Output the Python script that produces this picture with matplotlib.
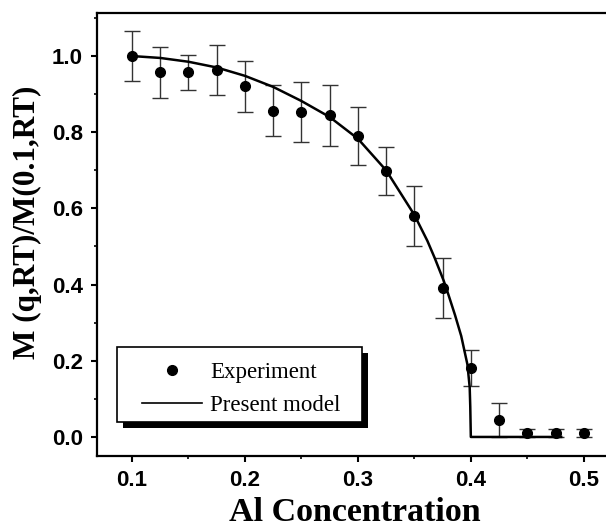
import matplotlib
matplotlib.use("Agg")
import matplotlib.pyplot as plt
from matplotlib.ticker import MultipleLocator
from matplotlib.patches import Rectangle

# experiment: Al concentration, normalised magnetisation, error
conc = [0.1, 0.125, 0.15, 0.175, 0.2, 0.225, 0.25, 0.275, 0.3, 0.325,
        0.35, 0.375, 0.4, 0.425, 0.45, 0.475, 0.5]
mag = [1.0, 0.958, 0.958, 0.963, 0.921, 0.856, 0.853, 0.845, 0.790, 0.698,
       0.580, 0.391, 0.181, 0.045, 0.011, 0.011, 0.011]
err = [0.065, 0.067, 0.046, 0.065, 0.067, 0.067, 0.078, 0.08, 0.076, 0.063,
       0.08, 0.078, 0.047, 0.045, 0.011, 0.011, 0.011]

# present model curve
model_x = [0.1, 0.125, 0.15, 0.175, 0.2, 0.225, 0.25, 0.275, 0.3, 0.325,
           0.35, 0.3615, 0.368, 0.376, 0.38, 0.386, 0.3915, 0.397, 0.399, 0.3995,
           0.4, 0.48]
model_y = [1.0, 0.995, 0.985, 0.97, 0.948, 0.919, 0.882, 0.84, 0.783, 0.70,
           0.583, 0.515, 0.47, 0.41, 0.375, 0.32, 0.265, 0.19, 0.13, 0.08,
           0.0, 0.0]

serif = ["Liberation Serif", "DejaVu Serif"]
sans = ["Liberation Sans", "DejaVu Sans"]

fig = plt.figure(figsize=(6.06, 5.27), dpi=100)
ax = fig.add_axes([97/606, 1-456/527, 515/606, 443/527])

ax.errorbar(conc, mag, yerr=err, fmt="none", ecolor="#333333", elinewidth=1,
            capsize=5.5, capthick=1)
ax.plot(conc, mag, "o", color="black", markersize=7, label="Experiment")
ax.plot(model_x, model_y, "-", color="black", lw=1.8, label="Present model")

ax.set_xlim(0.069, 0.525)
ax.set_ylim(-0.05, 1.113)
ax.xaxis.set_major_locator(MultipleLocator(0.1))
ax.xaxis.set_minor_locator(MultipleLocator(0.05))
ax.yaxis.set_major_locator(MultipleLocator(0.2))
ax.yaxis.set_minor_locator(MultipleLocator(0.1))
ax.tick_params(which="major", direction="out", length=4, width=1.5, labelsize=16)
ax.tick_params(axis="x", which="major", pad=6)
ax.tick_params(axis="y", which="major", pad=6)
ax.tick_params(which="minor", direction="out", length=2.5, width=1.2)
for lab in ax.get_xticklabels() + ax.get_yticklabels():
    lab.set_family(sans)
    lab.set_fontweight("bold")
for s in ax.spines.values():
    s.set_linewidth(1.6)

ax.set_xlabel("Al Concentration", family=serif, fontweight="bold", fontsize=24.5, va="top")
ax.xaxis.set_label_coords(0.5, -0.093)
ax.set_ylabel("M (q,RT)/M(0.1,RT)", family=serif, fontweight="bold", fontsize=22.5)
ax.yaxis.set_label_coords(-0.107, 0.528)

# legend box with solid black shadow
bx0, by0, bx1, by1 = 0.039, 0.077, 0.515, 0.246
dx, dy = 6 / 515, 6 / 443
ax.add_patch(Rectangle((bx0 + dx, by0 - dy), bx1 - bx0, by1 - by0, transform=ax.transAxes,
                       facecolor="black", edgecolor="none", zorder=4))
ax.add_patch(Rectangle((bx0, by0), bx1 - bx0, by1 - by0, transform=ax.transAxes,
                       facecolor="white", edgecolor="black", lw=1.2, zorder=5))

leg = ax.legend(loc="upper left", bbox_to_anchor=(0.087, 0.212),
                prop={"family": serif, "size": 16.5}, frameon=False,
                borderaxespad=0, handlelength=2.62, handletextpad=0.35, labelspacing=0.5,
                borderpad=0, numpoints=1)
leg.set_zorder(6)
for h in leg.legend_handles:
    h.set_linewidth(1.2)

fig.savefig("out.png", dpi=100)
